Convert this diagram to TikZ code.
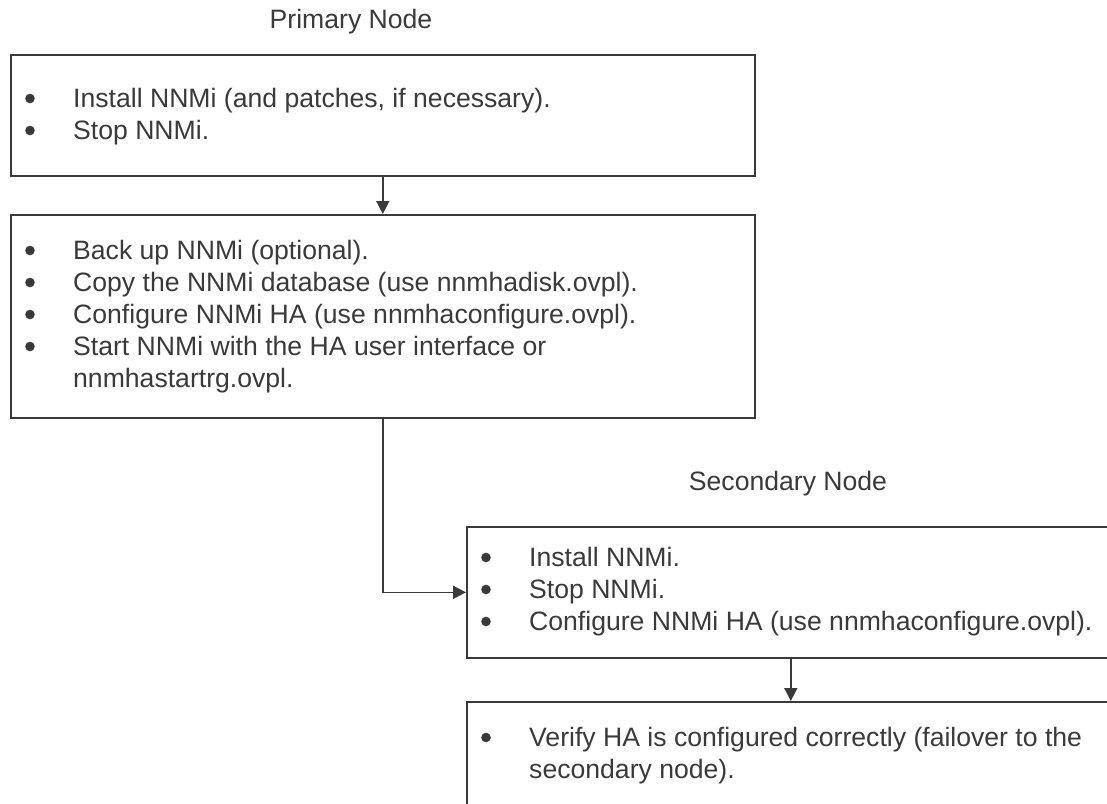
\documentclass[tikz,border=0pt]{standalone}
\usepackage{fontspec}
\setmainfont{Liberation Sans}
\usetikzlibrary{arrows.meta}
\definecolor{ink}{HTML}{3A3A3A}
\tikzset{
  box/.style={draw=ink, line width=1.6pt, anchor=north west, inner sep=0pt},
  txt/.style={anchor=base west, inner sep=0pt, text=ink,
    font=\fontsize{26.6}{32}\selectfont},
  head/.style={anchor=base, inner sep=0pt, text=ink,
    font=\fontsize{26.6}{32}\selectfont},
  link/.style={->, draw=ink, line width=1.6pt}
}
\begin{document}
\begin{tikzpicture}[x=1pt, y=-1pt, >={Triangle[length=13pt,width=13pt]}]
  \useasboundingbox (0,0) rectangle (1107,803);
  \clip (0,0) rectangle (1107,803);
  \node[head] (primary) at (351,28) {Primary Node};
  \node[head] (secondary) at (788,490) {Secondary Node};
  \node[box, minimum width=744pt, minimum height=121pt] (install) at (10,54) {};
  \node[box, minimum width=744pt, minimum height=203pt] (setup) at (10,214) {};
  \node[box, minimum width=648pt, minimum height=131pt] (second) at (466,526) {};
  \node[box, minimum width=648pt, minimum height=130pt] (verify) at (466,701) {};
  \node[txt] (i1) at ([shift={(63,53)}]install.north west) {Install NNMi (and patches, if necessary).};
  \node[txt] (i2) at ([shift={(63,85)}]install.north west) {Stop NNMi.};
  \node[txt] (s1) at ([shift={(63,45)}]setup.north west) {Back up NNMi (optional).};
  \node[txt] (s2) at ([shift={(63,77)}]setup.north west) {Copy the NNMi database (use nnmhadisk.ovpl).};
  \node[txt] (s3) at ([shift={(63,109)}]setup.north west) {Configure NNMi HA (use nnmhaconfigure.ovpl).};
  \node[txt] (s4) at ([shift={(63,141)}]setup.north west) {Start NNMi with the HA user interface or};
  \node[txt] (s5) at ([shift={(63,173)}]setup.north west) {nnmhastartrg.ovpl.};
  \node[txt] (n1) at ([shift={(63,40)}]second.north west) {Install NNMi.};
  \node[txt] (n2) at ([shift={(63,72)}]second.north west) {Stop NNMi.};
  \node[txt] (n3) at ([shift={(63,104)}]second.north west) {Configure NNMi HA (use nnmhaconfigure.ovpl).};
  \node[txt] (v1) at ([shift={(63,45)}]verify.north west) {Verify HA is configured correctly (failover to the};
  \node[txt] (v2) at ([shift={(63,77)}]verify.north west) {secondary node).};
  \foreach \n in {i1,i2,s1,s2,s3,s4,n1,n2,n3,v1}
    \fill[ink] ([xshift=-43pt, yshift=8.5pt]\n.base west) circle (4.8pt);
  \draw[link] (install.south) -- (setup.north);
  \draw[link] (setup.south) |- (second.west);
  \draw[link] (second.south) -- (verify.north);
\end{tikzpicture}
\end{document}
